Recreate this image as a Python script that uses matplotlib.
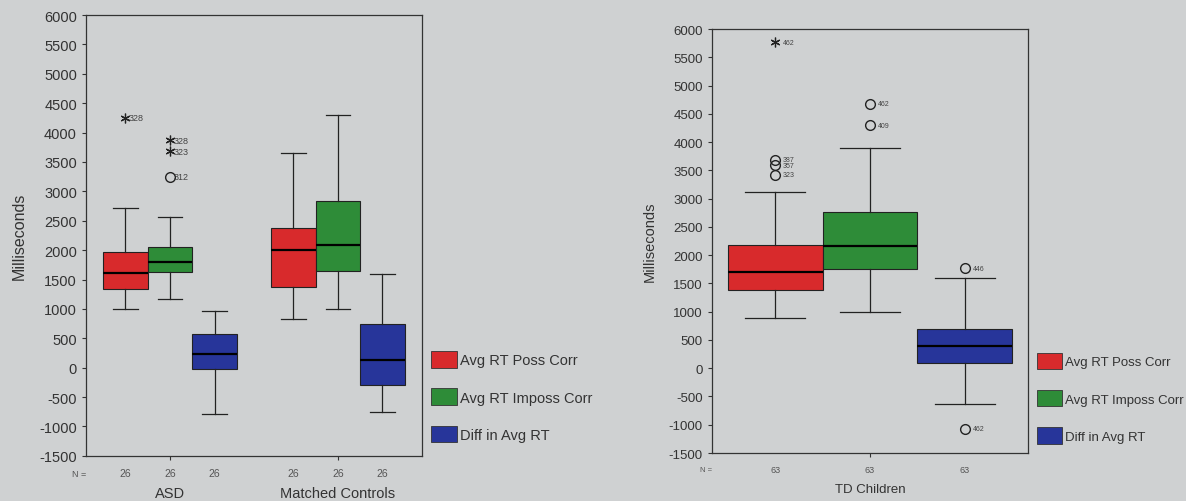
import matplotlib.pyplot as plt
from matplotlib.patches import Patch
from matplotlib.transforms import blended_transform_factory

plt.rcParams['font.family'] = ['Liberation Sans', 'DejaVu Sans']
plt.rcParams['axes.unicode_minus'] = False

series = ['Avg RT Poss Corr', 'Avg RT Imposs Corr', 'Diff in Avg RT']
colors = ['#d82a2c', '#2e8c38', '#27359a']
bg = '#cfd1d2'

# left panel: ASD vs matched controls (box stats per series)
left_groups = ['ASD', 'Matched Controls']
left_n = [[26, 26, 26], [26, 26, 26]]
asd_whislo = [1000, 1170, -790]
asd_q1 = [1340, 1630, -20]
asd_med = [1610, 1800, 240]
asd_q3 = [1960, 2060, 570]
asd_whishi = [2720, 2560, 960]
mc_whislo = [820, 1000, -760]
mc_q1 = [1370, 1640, -290]
mc_med = [2010, 2080, 130]
mc_q3 = [2380, 2830, 740]
mc_whishi = [3660, 4300, 1600]
# (group, series, value, marker, case label)
left_outliers = [(0, 0, 4250, '*', '328'), (0, 1, 3870, '*', '328'),
                 (0, 1, 3680, '*', '323'), (0, 1, 3250, 'o', '312')]

# right panel: TD children
right_groups = ['TD Children']
right_n = [[63, 63, 63]]
td_whislo = [880, 1000, -640]
td_q1 = [1390, 1750, 90]
td_med = [1700, 2170, 400]
td_q3 = [2180, 2770, 700]
td_whishi = [3120, 3900, 1600]
right_outliers = [(0, 0, 5770, '*', '462'), (0, 0, 3690, 'o', '387'),
                  (0, 0, 3590, 'o', '357'), (0, 0, 3420, 'o', '323'),
                  (0, 1, 4680, 'o', '462'), (0, 1, 4300, 'o', '409'),
                  (0, 2, 1770, 'o', '446'), (0, 2, -1070, 'o', '462')]

yticks = list(range(-1500, 6001, 500))


def make_stats(whislo, q1, med, q3, whishi):
    return [dict(whislo=a, q1=b, med=c, q3=d, whishi=e, fliers=[])
            for a, b, c, d, e in zip(whislo, q1, med, q3, whishi)]


def draw_panel(ax, groups, stats, ns, outliers, width, fs, cap, lab_fs):
    trans = blended_transform_factory(ax.transData, ax.transAxes)
    for g, st in enumerate(stats):
        pos = [g + 1 + (k - 1) * width for k in range(3)]
        bp = ax.bxp(st, positions=pos, widths=width, patch_artist=True,
                    showfliers=False, capwidths=width * cap,
                    boxprops=dict(edgecolor='#222222', linewidth=0.8),
                    medianprops=dict(color='black', linewidth=1.6),
                    whiskerprops=dict(color='#222222', linewidth=0.9),
                    capprops=dict(color='#222222', linewidth=0.9))
        for patch, c in zip(bp['boxes'], colors):
            patch.set_facecolor(c)
        for p, n in zip(pos, ns[g]):
            ax.text(p, -0.04, str(n), transform=trans, ha='center', va='center',
                    fontsize=fs - 3, color='#555555')
        ax.text(g + 1, -0.085, groups[g], transform=trans, ha='center', va='center',
                fontsize=fs, color='#333333')
    for g, k, v, m, lab in outliers:
        x = g + 1 + (k - 1) * width
        if m == '*':
            ax.plot(x, v, marker=(6, 2, 0), color='#222222', markersize=7,
                    markeredgewidth=0.9, linestyle='none')
        else:
            ax.plot(x, v, marker='o', markerfacecolor='none', markeredgecolor='#222222',
                    markersize=7, markeredgewidth=1.0, linestyle='none')
        ax.text(x + width * 0.08, v, lab, fontsize=lab_fs, color='#444444', va='center')
    ax.text(-0.02, -0.04, 'N =', transform=ax.transAxes, ha='center', va='center',
            fontsize=fs - 4, color='#555555')
    ax.set_ylim(-1500, 6000)
    ax.set_yticks(yticks)
    ax.set_xticks([g + 1 for g in range(len(groups))])
    ax.set_xticklabels([])
    ax.set_xlim(0.5, len(groups) + 0.5)
    ax.set_facecolor(bg)
    for s in ax.spines.values():
        s.set_color('#333333')
        s.set_linewidth(0.9)
    ax.tick_params(axis='y', labelsize=fs, colors='#333333', length=3)
    ax.tick_params(axis='x', length=3, colors='#333333')
    ax.set_ylabel('Milliseconds', fontsize=fs + 1, color='#333333')


fig = plt.figure(figsize=(11.86, 5.02), dpi=100, facecolor=bg)

ax1 = fig.add_axes([0.0725, 0.090, 0.2833, 0.878])
draw_panel(ax1, left_groups,
           [make_stats(asd_whislo, asd_q1, asd_med, asd_q3, asd_whishi),
            make_stats(mc_whislo, mc_q1, mc_med, mc_q3, mc_whishi)],
           left_n, left_outliers, 0.265, 10.5, 0.55, 6.5)
ax1.yaxis.set_label_coords(-0.175, 0.5)

ax2 = fig.add_axes([0.6003, 0.0956, 0.2665, 0.8444])
draw_panel(ax2, right_groups,
           [make_stats(td_whislo, td_q1, td_med, td_q3, td_whishi)],
           right_n, right_outliers, 0.30, 9.5, 0.63, 5)
ax2.yaxis.set_label_coords(-0.175, 0.5)

handles = [Patch(facecolor=c, edgecolor='#333333', linewidth=0.6) for c in colors]
fig.legend(handles, series, loc='upper left', bbox_to_anchor=(431 / 1186, 1 - 352 / 502),
           frameon=False, fontsize=10.5, handlelength=1.8, handleheight=1.4,
           labelspacing=1.4, handletextpad=0.2, borderpad=0, borderaxespad=0,
           labelcolor='#333333')
fig.legend(handles, series, loc='upper left', bbox_to_anchor=(1037 / 1186, 1 - 354 / 502),
           frameon=False, fontsize=9.5, handlelength=1.9, handleheight=1.5,
           labelspacing=1.6, handletextpad=0.2, borderpad=0, borderaxespad=0,
           labelcolor='#333333')

fig.savefig('out.png', dpi=100, facecolor=bg)
